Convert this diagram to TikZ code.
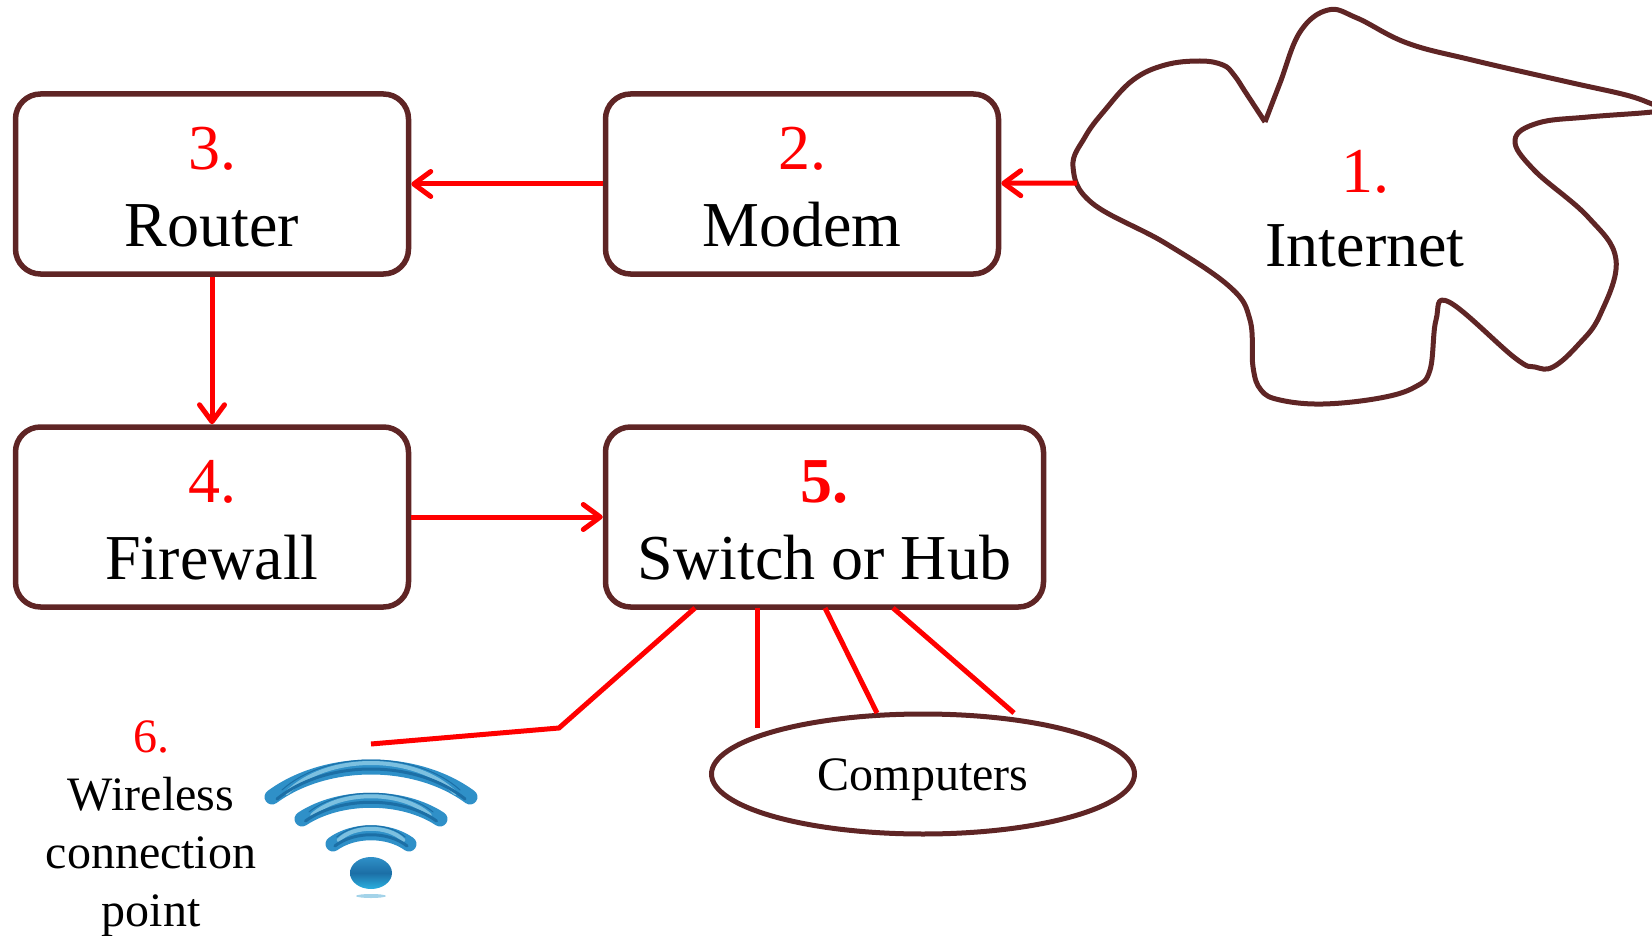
\documentclass[tikz,border=0pt]{standalone}
\usepackage{xcolor}
\usepackage{fontspec}
\setmainfont{Liberation Serif}
\usetikzlibrary{shapes, arrows.meta, positioning, calc, shapes.geometric}

\definecolor{boxline}{HTML}{5F2525}
\definecolor{wifidark}{HTML}{1C6FA6}
\definecolor{wifimid}{HTML}{2F90C8}
\definecolor{wifilight}{HTML}{7CC0E0}
\definecolor{wifibright}{HTML}{2BB0E0}

\tikzset{
  devbox/.style={rectangle, draw=boxline, line width=5.5pt, rounded corners=25pt, minimum width=393pt, minimum height=180pt, inner sep=0pt, align=center, text height=126pt, font=\fontsize{64}{77}\selectfont},
  link/.style={red, line width=5pt},
  flow/.style={link, -{Straight Barb[length=17pt, width=25pt, line width=5pt, round]}},
}

\begin{document}
\begin{tikzpicture}[x=1pt, y=-1pt, node distance=196pt]
\useasboundingbox (0,0) rectangle (1652,936);

\node[devbox] at (212,184) (router) {\textcolor{red}{3.}\\Router};
\node[devbox, right=191.5pt of router] (modem) {\textcolor{red}{2.}\\Modem};
\node[devbox, below=147.5pt of router] (firewall) {\textcolor{red}{4.}\\Firewall};
\node[devbox, minimum width=438pt, right=191.5pt of firewall] (switch) {\textcolor{red}{\textbf{5.}}\\Switch or Hub};

\node[ellipse, draw=boxline, line width=5pt, minimum width=423pt, minimum height=120pt, inner sep=0pt, text height=42pt, text depth=10pt, font=\fontsize{48}{58}\selectfont] at (923,774) (computers) {Computers};
\node[align=center, inner sep=0pt, font=\fontsize{48}{58}\selectfont] at (151,829) (wireless) {\textcolor{red}{6.}\\Wireless\\connection\\point};

% internet cloud
\draw[boxline, line width=5pt, line join=round] plot[smooth, tension=0.65] coordinates {(1265,122) (1246,93) (1234,75) (1223,65) (1200,61) (1165,65) (1133,80) (1105,110) (1085,137) (1073,167) (1092,203) (1165,243) (1230,287) (1250,320) (1253,367) (1261,390) (1280,400) (1323,404) (1380,398) (1415,387) (1430,370) (1436,320) (1449,302) (1515,358) (1535,367) (1553,367) (1578,345) (1600,315) (1616,260) (1588,217) (1534,170) (1515,140) (1538,123) (1588,117) (1652,112) (1662,108)}
  plot[smooth, tension=0.65] coordinates {(1662,108) (1652,104) (1626,95) (1568,82) (1472,60) (1407,43) (1357,18) (1328,10) (1300,32) (1280,83) (1265,122)};
\node[align=center, inner sep=0pt, font=\fontsize{64}{74}\selectfont] at (1365,209) (internet) {\textcolor{red}{1.}\\Internet};
\coordinate (cloudedge) at (1077,183);

\draw[flow] (cloudedge) -- (modem);
\draw[flow] (modem) -- (router);
\draw[flow] (router) -- (firewall);
\draw[flow] (firewall) -- (switch);

\coordinate (swa) at (695,608);
\coordinate (swb) at (757,608);
\coordinate (swc) at (825,608);
\coordinate (swd) at (893,608);
\coordinate (wifitop) at (371,744);
\coordinate (wifibend) at (559,728);
\coordinate (compb) at (757,728);
\coordinate (compc) at (877,713);
\coordinate (compd) at (1014,713);

\draw[link] (swa) -- (wifibend) -- (wifitop);
\draw[link] (swb) -- (compb);
\draw[link] (swc) -- (compc);
\draw[link] (swd) -- (compd);

% wifi signal
\foreach \ex/\ey/\topy in {99/797/757, 69/819/794, 38/844/829} {
  \foreach \off/\wd/\col/\fac in {0/15/wifimid/1, -4/4/wifilight/0.85, 2/3/wifidark/0.95, -7/1/wifidark/0.9} {
    \draw[\col, line width=\wd pt, line cap=round] (371-\ex*\fac,\ey+\off) .. controls (371-\ex*0.45,\topy+\off) and (371+\ex*0.45,\topy+\off) .. (371+\ex*\fac,\ey+\off);
  }
}
\shade[top color=wifimid, bottom color=wifibright, middle color=wifidark] (371,873) ellipse (21 and 16);
\fill[wifilight!70] (371,896) ellipse (15 and 2);
\end{tikzpicture}
\end{document}
